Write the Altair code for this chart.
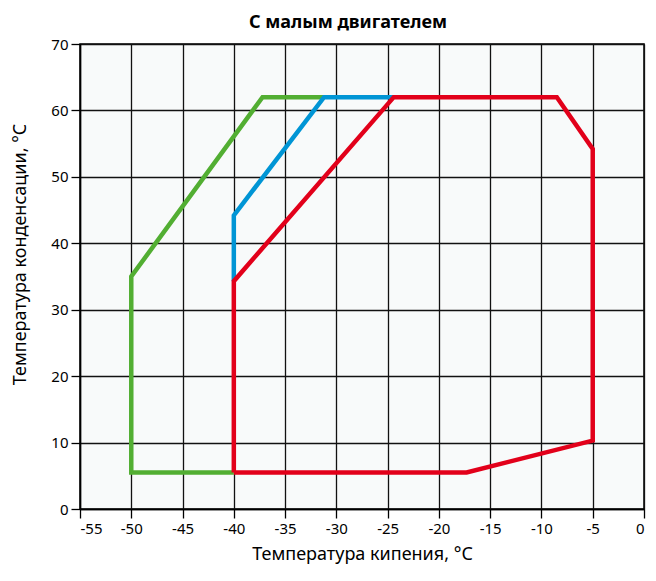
import altair as alt
import pandas as pd

green_x = [-40, -50, -50, -37.2, -31.2]
green_y = [5.5, 5.5, 35, 62, 62]
blue_x = [-40, -40, -31.2, -24.4]
blue_y = [34.3, 44.2, 62, 62]
red_x = [-40, -40, -24.4, -8.5, -5, -5, -17.3, -40]
red_y = [5.5, 34.3, 62, 62, 54.2, 10.3, 5.5, 5.5]

x_ticks = list(range(-55, 1, 5))
y_ticks = list(range(0, 71, 10))

rows = []
for name, xs, ys in [("green", green_x, green_y), ("blue", blue_x, blue_y), ("red", red_x, red_y)]:
    for i, (a, b) in enumerate(zip(xs, ys)):
        rows.append({"s": name, "x": a, "y": b, "o": i})
df = pd.DataFrame(rows)

FONT = "Noto Sans"

chart = alt.Chart(df).mark_line(strokeWidth=4.5, strokeJoin="miter", clip=True).encode(
    x=alt.X("x:Q", scale=alt.Scale(domain=[-55, 0], nice=False),
            axis=alt.Axis(values=x_ticks, title="Температура кипения, °C",
                          labelExpr="datum.value + ''", titlePadding=9)),
    y=alt.Y("y:Q", scale=alt.Scale(domain=[0, 70], nice=False),
            axis=alt.Axis(values=y_ticks, title="Температура конденсации, °C",
                          titleX=-60, titleY=210, titleAlign="center", titleBaseline="middle")),
    color=alt.Color("s:N", scale=alt.Scale(domain=["green", "blue", "red"],
                                           range=["#52ae32", "#0095d5", "#e2001a"]), legend=None),
    order="o:Q",
    detail="s:N",
).properties(
    width=564, height=465,
    title=alt.TitleParams("С малым двигателем", fontSize=18, font=FONT, fontWeight="bold",
                          color="black", offset=5, dx=-14),
    autosize=alt.AutoSizeParams(type="none"),
    padding={"left": 72, "top": 36, "right": 4, "bottom": 60},
).configure_view(
    fill="#f8fafa", stroke="black", strokeWidth=1.5
).configure_axis(
    grid=True, gridColor="#111111", gridOpacity=1, gridWidth=1.3,
    domainColor="black", domainWidth=1.5,
    tickColor="black", tickSize=9, tickWidth=1.3,
    labelFont=FONT, labelFontSize=15, labelColor="black",
    titleFont=FONT, titleFontSize=18, titleFontWeight="normal", titleColor="black",
    labelPadding=3,
)

chart.save("out.html", embed_options={"renderer": "svg", "actions": False})
